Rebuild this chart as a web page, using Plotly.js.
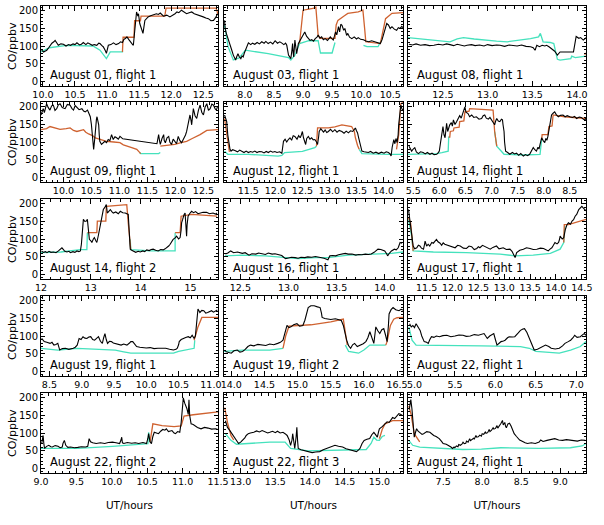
<!DOCTYPE html>
<html>
<head>
<meta charset="utf-8">
<script src="https://cdn.plot.ly/plotly-3.0.1.min.js"></script>
<style>
  html, body { margin: 0; padding: 0; background: #fff; }
  #chart { width: 604px; height: 525px; }
</style>
</head>
<body>
<div id="chart"></div>
<script>
// CO mixing ratio along each flight: [UT hours, ppbv]
// obs = measured CO (black), bg = background model (turquoise), model = model incl. plume (orange)

const aug01_obs = [[9.98,88],[10.01,83],[10.04,86],[10.06,88],[10.09,95],[10.11,102],[10.14,108],[10.17,112],[10.19,116],[10.22,108],[10.24,102],[10.28,106],[10.32,105],[10.36,100],[10.40,104],[10.43,102],[10.47,106],[10.50,104],[10.53,109],[10.57,103],[10.60,105],[10.63,110],[10.67,104],[10.70,109],[10.74,106],[10.77,102],[10.80,104],[10.84,102],[10.87,108],[10.89,107],[10.92,101],[10.94,98],[10.97,88],[10.99,79],[11.02,102],[11.06,104],[11.10,109],[11.14,104],[11.18,107],[11.21,112],[11.24,110],[11.26,118],[11.29,122],[11.31,126],[11.34,118],[11.36,112],[11.39,106],[11.41,102],[11.43,150],[11.46,197],[11.48,185],[11.49,192],[11.51,164],[11.53,150],[11.56,136],[11.59,173],[11.62,178],[11.64,183],[11.68,186],[11.72,188],[11.77,192],[11.80,190],[11.83,194],[11.88,185],[11.93,188],[11.98,183],[12.03,188],[12.06,192],[12.09,197],[12.12,195],[12.16,202],[12.20,196],[12.24,192],[12.28,195],[12.32,197],[12.36,192],[12.40,190],[12.45,186],[12.50,183],[12.54,180],[12.58,178],[12.62,172],[12.66,173],[12.70,183],[12.72,192]];
const aug01_bg = [[9.97,83],[10.10,95],[10.37,102],[10.60,101],[10.78,100],[10.89,88],[10.99,64],[11.05,83],[11.20,83],[11.25,83]];
const aug01_model = [[11.24,83],[11.25,125],[11.42,125],[11.43,172],[11.52,172],[11.53,185],[11.90,185],[11.92,208],[12.70,208],[12.73,190]];

const aug03_obs = [[7.65,173],[7.66,150],[7.68,136],[7.71,118],[7.74,107],[7.77,90],[7.80,74],[7.82,66],[7.84,60],[7.86,70],[7.88,78],[7.90,70],[7.93,64],[7.95,72],[7.97,69],[7.99,80],[8.01,88],[8.04,100],[8.06,109],[8.10,104],[8.13,108],[8.17,105],[8.21,110],[8.25,106],[8.29,112],[8.33,108],[8.36,113],[8.40,107],[8.44,111],[8.48,106],[8.52,115],[8.56,108],[8.60,112],[8.63,109],[8.67,104],[8.70,108],[8.72,102],[8.75,74],[8.77,70],[8.79,64],[8.81,90],[8.82,107],[8.83,80],[8.84,69],[8.86,117],[8.87,95],[8.89,78],[8.92,107],[8.95,115],[8.98,126],[9.01,132],[9.03,140],[9.06,128],[9.09,121],[9.12,116],[9.15,118],[9.18,114],[9.21,121],[9.24,125],[9.26,131],[9.29,122],[9.32,126],[9.35,118],[9.38,121],[9.42,116],[9.45,122],[9.47,126],[9.50,120],[9.52,117],[9.54,128],[9.56,140],[9.58,132],[9.61,155],[9.63,140],[9.65,162],[9.67,159],[9.70,145],[9.72,150],[9.75,130],[9.77,136],[9.80,125],[9.84,121],[9.88,126],[9.92,120],[9.95,124],[9.99,119],[10.04,118],[10.08,114],[10.13,112],[10.18,115],[10.24,112],[10.29,110],[10.33,107],[10.36,118],[10.39,136],[10.42,150],[10.44,164],[10.47,160],[10.50,150],[10.53,155],[10.57,148],[10.61,145],[10.64,152],[10.67,150],[10.70,156],[10.72,152]];
const aug03_bg = [[7.64,160],[7.66,150],[7.71,98],[7.80,60],[7.90,66],[8.01,88],[8.40,78],[8.75,67],[8.79,60],[8.86,74],[8.94,107],[9.10,115],[9.26,115],[9.30,80],[9.50,80],[9.55,110],[9.70,null],[10.02,null],[10.04,102],[10.10,98],[10.29,98],[10.35,117]];
const aug03_model = [[8.94,107],[8.97,150],[9.00,202],[9.10,205],[9.17,207],[9.22,211],[9.25,150],[9.26,130],[9.30,122],[9.55,122],[9.57,160],[9.60,173],[9.70,185],[9.77,193],[9.95,197],[10.03,202],[10.06,150],[10.08,112],[10.33,107],[10.38,150],[10.42,178],[10.53,193],[10.72,195]];

const aug08_obs = [[12.12,105],[12.16,103],[12.20,106],[12.25,102],[12.30,104],[12.35,101],[12.40,102],[12.45,105],[12.50,103],[12.54,106],[12.58,104],[12.62,101],[12.66,105],[12.70,103],[12.74,100],[12.77,102],[12.82,104],[12.86,101],[12.91,103],[12.96,100],[13.00,104],[13.05,101],[13.10,103],[13.14,102],[13.19,99],[13.24,103],[13.28,101],[13.33,100],[13.38,103],[13.43,99],[13.48,98],[13.51,95],[13.53,88],[13.55,102],[13.58,98],[13.61,102],[13.64,100],[13.66,102],[13.69,97],[13.72,92],[13.75,85],[13.77,78],[13.78,74],[13.81,83],[13.96,83],[13.99,127],[14.02,122],[14.04,124],[14.07,117],[14.09,121],[14.10,124]];
const aug08_bg = [[12.11,124],[12.25,121],[12.40,116],[12.58,112],[12.66,120],[12.73,124],[12.85,120],[12.96,117],[13.10,114],[13.22,112],[13.35,116],[13.48,121],[13.57,126],[13.59,136],[13.61,120],[13.62,112],[13.70,110],[13.74,107],[13.78,62],[13.81,60],[13.93,64],[13.94,71],[13.98,67],[14.10,71]];
const aug08_model = [[14.085,75],[14.10,80]];

const aug09_obs = [[9.60,177],[9.62,190],[9.64,195],[9.66,184],[9.68,200],[9.70,209],[9.73,198],[9.76,191],[9.79,203],[9.82,205],[9.85,190],[9.88,195],[9.91,206],[9.94,209],[9.98,198],[10.03,195],[10.07,207],[10.12,205],[10.15,196],[10.18,191],[10.21,204],[10.24,200],[10.28,192],[10.33,195],[10.36,188],[10.39,186],[10.43,191],[10.46,180],[10.48,172],[10.50,150],[10.51,130],[10.53,100],[10.54,79],[10.56,110],[10.57,140],[10.59,165],[10.60,172],[10.62,160],[10.63,149],[10.64,120],[10.65,102],[10.68,93],[10.71,98],[10.74,102],[10.77,98],[10.80,107],[10.83,104],[10.86,121],[10.89,107],[10.92,115],[10.95,112],[10.98,108],[11.01,116],[11.04,112],[11.06,109],[11.67,95],[11.69,115],[11.70,121],[11.72,100],[11.73,93],[11.76,110],[11.79,121],[11.80,104],[11.82,98],[11.85,112],[11.88,116],[11.90,100],[11.93,93],[11.96,108],[11.99,102],[12.02,95],[12.05,116],[12.08,104],[12.11,98],[12.15,110],[12.18,120],[12.20,130],[12.22,150],[12.24,170],[12.26,177],[12.28,160],[12.29,149],[12.31,180],[12.32,195],[12.35,175],[12.38,167],[12.41,190],[12.44,205],[12.47,185],[12.50,177],[12.53,200],[12.56,209],[12.59,190],[12.62,195],[12.65,208],[12.68,205],[12.71,194],[12.73,191],[12.75,200]];
const aug09_bg = [[11.36,70],[11.38,67],[11.70,67],[11.73,70]];
const aug09_model = [[9.60,135],[9.70,138],[9.76,144],[9.85,140],[9.94,136],[10.05,138],[10.12,140],[10.18,133],[10.24,130],[10.36,135],[10.40,128],[10.45,123],[10.52,118],[10.57,112],[10.65,108],[10.77,102],[10.90,100],[11.01,98],[11.07,92],[11.13,88],[11.22,84],[11.31,79],[11.36,72],[11.38,67],[11.50,null],[11.73,88],[11.85,90],[11.99,93],[12.10,98],[12.20,102],[12.30,110],[12.44,121],[12.56,133],[12.66,135],[12.76,135]];

const aug12_obs = [[11.06,177],[11.08,165],[11.10,158],[11.12,120],[11.14,93],[11.16,80],[11.18,74],[11.21,78],[11.25,76],[11.30,72],[11.34,77],[11.38,73],[11.42,70],[11.46,74],[11.50,70],[11.54,73],[11.58,71],[11.62,74],[11.66,70],[11.70,73],[11.75,72],[11.79,69],[11.83,73],[11.87,70],[11.91,74],[11.95,71],[11.99,73],[12.03,70],[12.08,72],[12.12,68],[12.14,90],[12.15,102],[12.18,108],[12.21,100],[12.24,107],[12.27,112],[12.30,105],[12.33,118],[12.36,116],[12.40,108],[12.43,118],[12.46,112],[12.48,120],[12.50,130],[12.52,112],[12.54,100],[12.56,93],[12.58,110],[12.61,116],[12.64,108],[12.67,112],[12.70,106],[12.73,107],[12.76,100],[12.78,93],[12.80,115],[12.81,130],[12.84,138],[12.86,135],[12.89,128],[12.92,134],[12.95,127],[12.98,130],[13.02,136],[13.06,129],[13.10,135],[13.14,128],[13.18,133],[13.23,130],[13.27,125],[13.31,131],[13.35,126],[13.39,132],[13.43,130],[13.46,136],[13.48,140],[13.50,132],[13.52,126],[13.54,112],[13.57,93],[13.60,74],[13.64,72],[13.68,70],[13.72,70],[13.76,73],[13.81,68],[13.86,71],[13.91,67],[13.96,71],[14.01,68],[14.05,72],[14.09,70],[14.12,66],[14.14,60],[14.16,85],[14.19,107],[14.21,95],[14.23,110],[14.25,98],[14.27,120],[14.28,149],[14.30,175],[14.32,205],[14.34,195],[14.36,190]];
const aug12_bg = [[11.06,74],[11.12,65],[11.50,65],[11.80,63],[12.05,60],[12.12,62],[12.17,70],[12.50,73],[12.73,84],[12.76,88],[13.10,null],[13.55,79],[13.60,67],[14.09,65],[14.36,65]];
const aug12_model = [[11.06,167],[11.10,120],[11.12,93],[11.15,72],[11.50,null],[12.76,88],[12.78,140],[12.98,140],[13.10,143],[13.23,149],[13.41,144],[13.46,130],[13.48,112],[13.52,90],[13.55,79],[13.80,null],[14.24,79],[14.28,120],[14.32,209],[14.36,212]];

const aug14a_obs = [[5.42,88],[5.44,80],[5.47,74],[5.50,80],[5.53,84],[5.56,72],[5.60,67],[5.64,72],[5.69,70],[5.73,66],[5.77,70],[5.82,65],[5.86,68],[5.90,64],[5.95,65],[5.98,70],[6.00,74],[6.02,95],[6.04,121],[6.05,135],[6.07,144],[6.09,120],[6.11,112],[6.13,140],[6.14,153],[6.16,130],[6.18,145],[6.20,149],[6.23,155],[6.25,145],[6.27,163],[6.30,150],[6.33,158],[6.36,168],[6.39,175],[6.42,168],[6.44,177],[6.47,190],[6.49,200],[6.51,185],[6.55,181],[6.58,172],[6.62,177],[6.66,170],[6.71,172],[6.76,165],[6.81,167],[6.84,175],[6.87,177],[6.90,168],[6.94,165],[6.97,170],[7.00,163],[7.03,155],[7.06,149],[7.08,160],[7.10,167],[7.13,160],[7.16,158],[7.19,165],[7.21,163],[7.22,150],[7.24,130],[7.25,100],[7.27,74],[7.31,70],[7.35,65],[7.40,70],[7.44,66],[7.48,68],[7.52,62],[7.56,67],[7.61,60],[7.65,64],[7.69,61],[7.73,65],[7.76,72],[7.78,80],[7.80,84],[7.83,78],[7.86,74],[7.89,85],[7.91,80],[7.93,93],[7.95,105],[7.96,112],[7.99,104],[8.02,98],[8.04,110],[8.06,105],[8.08,116],[8.11,140],[8.13,160],[8.15,177],[8.18,182],[8.21,186],[8.24,178],[8.28,172],[8.32,176],[8.37,177],[8.41,172],[8.45,175],[8.50,172],[8.55,170],[8.59,173],[8.63,167],[8.68,171],[8.72,170],[8.76,165],[8.79,163],[8.81,168]];
const aug14a_bg = [[5.40,65],[5.70,66],[5.95,67],[6.05,70],[6.14,74],[6.17,74],[6.18,114],[6.20,114],[6.60,null],[7.06,130],[7.10,88],[7.24,65],[7.60,63],[7.93,65],[7.96,107]];
const aug14a_model = [[6.18,114],[6.20,114],[6.21,130],[6.27,132],[6.28,140],[6.38,142],[6.39,158],[6.47,160],[6.49,186],[6.57,188],[6.58,195],[7.03,191],[7.05,150],[7.06,130],[7.10,88],[7.50,null],[7.96,107],[7.97,121],[8.08,121],[8.10,144],[8.16,146],[8.18,177],[8.40,172],[8.60,170],[8.81,167]];

const aug14b_obs = [[12.01,66],[12.05,62],[12.09,64],[12.12,61],[12.16,65],[12.20,62],[12.25,63],[12.30,61],[12.35,66],[12.38,70],[12.42,75],[12.45,70],[12.47,66],[12.52,63],[12.56,65],[12.59,61],[12.64,64],[12.68,62],[12.72,66],[12.76,64],[12.79,66],[12.81,85],[12.82,108],[12.84,140],[12.85,156],[12.88,150],[12.91,151],[12.93,156],[12.95,120],[12.97,99],[13.00,95],[13.02,90],[13.05,100],[13.07,104],[13.10,95],[13.12,90],[13.15,110],[13.19,137],[13.22,160],[13.25,184],[13.28,190],[13.31,198],[13.33,174],[13.36,180],[13.39,184],[13.42,178],[13.45,174],[13.50,177],[13.55,172],[13.59,179],[13.64,175],[13.69,174],[13.72,172],[13.75,170],[13.77,120],[13.79,71],[13.82,68],[13.85,66],[13.90,62],[13.95,65],[13.99,63],[14.04,66],[14.08,64],[14.12,69],[14.17,67],[14.21,70],[14.25,71],[14.30,68],[14.35,66],[14.40,70],[14.45,69],[14.49,72],[14.52,75],[14.56,80],[14.59,85],[14.62,92],[14.65,99],[14.69,103],[14.72,108],[14.76,100],[14.79,104],[14.81,125],[14.82,146],[14.84,155],[14.85,165],[14.87,170],[14.89,174],[14.90,140],[14.92,108],[14.93,140],[14.95,165],[14.98,172],[15.02,179],[15.06,175],[15.10,178],[15.15,172],[15.19,174],[15.25,176],[15.32,176],[15.38,172],[15.45,174],[15.50,171],[15.53,174]];
const aug14b_bg = [[12.00,61],[12.40,63],[12.79,70],[12.92,70],[12.93,118],[13.30,null],[13.79,99],[13.80,70],[14.20,66],[14.69,66],[14.69,118]];
const aug14b_model = [[12.93,118],[13.12,118],[13.13,151],[13.30,151],[13.31,193],[13.55,195],[13.72,198],[13.75,146],[13.79,99],[13.80,70],[14.20,null],[14.69,118],[14.79,118],[14.80,140],[14.81,165],[15.02,170],[15.30,167],[15.53,165]];

const aug16_obs = [[12.345,57],[12.37,60],[12.40,66],[12.43,61],[12.47,63],[12.52,59],[12.55,61],[12.59,54],[12.62,58],[12.66,57],[12.69,60],[12.72,59],[12.76,56],[12.79,60],[12.83,57],[12.86,58],[12.90,54],[12.93,53],[12.95,48],[12.97,44],[13.00,46],[13.03,48],[13.07,47],[13.10,45],[13.13,48],[13.17,47],[13.20,49],[13.24,48],[13.28,50],[13.31,49],[13.34,47],[13.37,45],[13.41,41],[13.42,46],[13.43,52],[13.46,53],[13.49,52],[13.52,55],[13.55,57],[13.59,59],[13.62,57],[13.66,57],[13.70,54],[13.73,56],[13.76,55],[13.80,57],[13.83,56],[13.86,57],[13.89,62],[13.91,68],[13.93,71],[13.96,70],[14.00,66],[14.02,58],[14.03,52],[14.05,60],[14.07,66],[14.10,71],[14.12,69],[14.14,75],[14.16,90],[14.18,88]];
const aug16_bg = [[12.34,52],[12.52,54],[12.76,52],[12.93,47],[13.10,44],[13.28,47],[13.41,47],[13.62,54],[13.79,56],[13.90,57],[14.00,57],[14.07,59],[14.19,63]];
const aug16_model = [];

const aug17_obs = [[11.15,184],[11.17,160],[11.19,146],[11.21,110],[11.24,80],[11.27,72],[11.31,75],[11.34,82],[11.37,80],[11.40,74],[11.44,71],[11.46,85],[11.47,94],[11.50,80],[11.53,85],[11.56,80],[11.60,90],[11.63,88],[11.66,95],[11.69,99],[11.72,92],[11.76,88],[11.79,82],[11.82,89],[11.85,85],[11.90,82],[11.95,80],[12.00,76],[12.05,75],[12.10,82],[12.15,80],[12.21,74],[12.27,73],[12.32,80],[12.37,78],[12.42,70],[12.47,73],[12.50,78],[12.53,75],[12.58,82],[12.63,78],[12.68,73],[12.73,71],[12.78,76],[12.85,80],[12.90,72],[12.98,75],[13.04,70],[13.11,71],[13.15,65],[13.19,55],[13.21,47],[13.24,61],[13.30,68],[13.37,71],[13.43,75],[13.50,73],[13.56,70],[13.63,71],[13.70,74],[13.76,73],[13.81,70],[13.85,66],[13.89,72],[13.92,75],[13.95,82],[13.98,90],[14.02,86],[14.05,90],[14.07,100],[14.08,108],[14.12,100],[14.15,104],[14.18,127],[14.21,140],[14.24,146],[14.28,142],[14.31,151],[14.34,155],[14.37,165],[14.40,170],[14.44,184],[14.47,190],[14.50,193],[14.53,188],[14.56,184],[14.58,180]];
const aug17_bg = [[11.15,156],[11.21,108],[11.24,66],[11.63,63],[12.27,61],[12.92,57],[13.21,52],[13.56,54],[13.89,59],[14.02,66],[14.08,71],[14.15,90],[14.17,137]];
const aug17_model = [[11.145,162],[11.19,146],[11.22,100],[11.24,66],[12.00,null],[14.15,90],[14.16,141],[14.24,141],[14.37,146],[14.58,156]];

const aug19a_obs = [[8.38,93],[8.40,88],[8.42,84],[8.46,82],[8.51,79],[8.54,82],[8.57,74],[8.60,76],[8.63,79],[8.66,60],[8.70,64],[8.75,65],[8.80,62],[8.87,65],[8.90,68],[8.93,74],[8.96,93],[8.99,90],[9.02,98],[9.05,94],[9.08,93],[9.11,97],[9.14,98],[9.17,90],[9.20,88],[9.23,93],[9.26,98],[9.29,85],[9.32,79],[9.34,95],[9.36,107],[9.38,90],[9.40,79],[9.43,85],[9.46,84],[9.49,80],[9.52,79],[9.56,76],[9.61,74],[9.65,77],[9.70,74],[9.74,80],[9.76,84],[9.79,84],[9.82,76],[9.85,70],[9.90,68],[9.94,67],[10.00,66],[10.06,67],[10.12,64],[10.18,65],[10.24,66],[10.30,65],[10.36,62],[10.42,60],[10.46,62],[10.48,65],[10.50,75],[10.51,84],[10.54,90],[10.57,93],[10.61,96],[10.65,98],[10.68,95],[10.71,102],[10.74,93],[10.76,100],[10.77,116],[10.79,150],[10.80,177],[10.83,167],[10.86,173],[10.89,172],[10.92,165],[10.95,167],[10.98,170],[11.01,172],[11.04,168],[11.07,170],[11.10,174]];
const aug19a_bg = [[8.37,65],[8.63,60],[8.93,65],[9.30,63],[9.52,60],[9.65,55],[9.76,51],[10.06,51],[10.42,51],[10.50,56],[10.60,60],[10.74,65],[10.75,88]];
const aug19a_model = [[10.74,88],[10.80,126],[10.86,153],[11.11,153]];

const aug19b_obs = [[13.91,56],[13.95,53],[14.00,51],[14.04,58],[14.09,60],[14.13,54],[14.17,56],[14.21,62],[14.25,70],[14.29,74],[14.34,72],[14.40,76],[14.47,74],[14.52,73],[14.58,77],[14.64,75],[14.70,79],[14.74,82],[14.78,88],[14.81,110],[14.84,130],[14.87,124],[14.90,126],[14.94,132],[14.99,135],[15.03,128],[15.08,130],[15.11,145],[15.14,170],[15.16,181],[15.20,186],[15.25,186],[15.30,183],[15.34,181],[15.36,165],[15.37,153],[15.41,150],[15.45,149],[15.50,147],[15.57,149],[15.62,146],[15.66,144],[15.69,130],[15.72,100],[15.74,88],[15.77,72],[15.80,65],[15.83,75],[15.86,79],[15.90,70],[15.95,74],[15.99,78],[16.03,84],[16.06,95],[16.09,112],[16.12,95],[16.15,79],[16.17,110],[16.18,126],[16.21,115],[16.24,107],[16.27,118],[16.30,121],[16.33,100],[16.35,84],[16.37,130],[16.38,163],[16.41,175],[16.44,181],[16.48,175],[16.53,172],[16.56,176],[16.59,174]];
const aug19b_bg = [[13.89,56],[14.17,60],[14.58,60],[14.78,65],[15.20,null],[15.72,74],[15.77,56],[15.92,51],[16.00,60],[16.09,74],[16.33,74]];
const aug19b_model = [[14.78,65],[14.82,100],[14.87,128],[15.20,132],[15.50,140],[15.69,148],[15.72,110],[15.75,74],[16.00,null],[16.33,74],[16.35,84],[16.40,130],[16.45,148],[16.50,152],[16.59,153]];

const aug22a_obs = [[4.94,135],[4.96,126],[4.98,130],[5.00,124],[5.02,135],[5.04,128],[5.07,116],[5.09,100],[5.12,84],[5.15,82],[5.17,79],[5.19,90],[5.21,98],[5.24,96],[5.27,100],[5.31,98],[5.35,101],[5.40,102],[5.45,98],[5.50,100],[5.55,103],[5.60,102],[5.64,99],[5.69,100],[5.74,104],[5.79,102],[5.83,105],[5.86,107],[5.88,100],[5.90,93],[5.93,100],[5.96,104],[5.98,107],[6.00,90],[6.02,74],[6.05,80],[6.07,84],[6.10,86],[6.12,88],[6.15,95],[6.17,98],[6.21,97],[6.24,98],[6.28,108],[6.31,116],[6.34,120],[6.36,121],[6.39,110],[6.43,88],[6.46,70],[6.48,60],[6.52,62],[6.55,65],[6.59,70],[6.62,74],[6.66,70],[6.69,65],[6.74,63],[6.79,65],[6.83,72],[6.86,79],[6.90,84],[6.93,88],[6.96,95],[6.98,102],[7.01,96],[7.05,98],[7.08,104],[7.10,107],[7.12,102]];
const aug22a_bg = [[4.93,126],[4.96,100],[4.97,88],[5.02,74],[5.36,74],[5.83,72],[6.31,70],[6.42,65],[6.50,56],[6.79,51],[6.93,60],[7.05,70],[7.12,84]];
const aug22a_model = [];

const aug22b_obs = [[9.01,70],[9.02,85],[9.03,93],[9.04,70],[9.05,56],[9.08,62],[9.11,65],[9.14,61],[9.16,60],[9.20,64],[9.24,62],[9.27,58],[9.30,60],[9.31,70],[9.33,79],[9.35,65],[9.38,59],[9.42,60],[9.47,58],[9.52,59],[9.57,61],[9.63,60],[9.66,62],[9.68,84],[9.70,75],[9.73,72],[9.78,70],[9.84,72],[9.90,70],[9.95,73],[10.01,74],[10.06,72],[10.11,70],[10.13,80],[10.14,88],[10.15,72],[10.17,70],[10.22,73],[10.28,71],[10.33,72],[10.38,70],[10.44,73],[10.49,70],[10.51,85],[10.52,98],[10.54,75],[10.56,70],[10.58,90],[10.60,102],[10.63,100],[10.66,98],[10.69,105],[10.72,110],[10.75,108],[10.77,112],[10.80,104],[10.85,107],[10.88,100],[10.90,98],[10.93,104],[10.96,102],[10.98,130],[11.00,180],[11.01,200],[11.03,185],[11.04,181],[11.06,170],[11.08,153],[11.09,195],[11.10,150],[11.12,126],[11.15,124],[11.17,121],[11.21,116],[11.26,112],[11.31,116],[11.36,114],[11.41,111],[11.47,112],[11.50,110]];
const aug22b_bg = [[9.00,56],[9.52,56],[10.01,62],[10.49,68],[10.51,70],[10.52,102],[10.54,74]];
const aug22b_model = [[10.54,74],[10.56,100],[10.58,126],[10.71,121],[10.88,118],[10.98,120],[11.02,148],[11.15,152],[11.36,158],[11.50,160]];

const aug22c_obs = [[12.78,135],[12.80,125],[12.81,116],[12.84,108],[12.86,102],[12.89,92],[12.92,84],[12.95,76],[12.97,70],[13.00,74],[13.03,79],[13.06,86],[13.08,93],[13.11,98],[13.14,100],[13.19,102],[13.23,106],[13.27,103],[13.31,107],[13.35,104],[13.39,100],[13.42,102],[13.46,105],[13.50,101],[13.53,105],[13.57,100],[13.61,102],[13.64,98],[13.67,93],[13.70,80],[13.72,65],[13.74,80],[13.75,98],[13.77,70],[13.78,56],[13.80,90],[13.81,116],[13.82,80],[13.83,56],[13.87,52],[13.92,49],[13.97,46],[14.03,44],[14.08,46],[14.14,47],[14.19,52],[14.25,56],[14.30,60],[14.36,65],[14.41,62],[14.47,60],[14.52,55],[14.58,51],[14.63,49],[14.67,47],[14.70,52],[14.72,56],[14.75,70],[14.78,79],[14.82,82],[14.86,84],[14.89,95],[14.92,102],[14.95,94],[14.97,88],[14.99,105],[15.00,112],[15.04,118],[15.08,126],[15.11,132],[15.14,130],[15.17,140],[15.19,144],[15.22,141],[15.25,149],[15.28,155],[15.31,153],[15.33,150]];
const aug22c_bg = [[12.78,98],[12.86,79],[12.94,68],[13.14,70],[13.42,74],[13.64,74],[13.72,56],[13.97,49],[14.53,51],[14.81,53],[14.88,70],[14.92,88],[14.96,80],[15.00,79],[15.04,90],[15.08,93]];
const aug22c_model = [[12.77,172],[12.79,150],[12.81,130],[12.86,93],[12.90,80],[13.50,null],[15.00,84],[15.04,110],[15.08,126],[15.19,135],[15.34,135]];

const aug24_obs = [[7.066,167],[7.076,185],[7.086,195],[7.10,170],[7.11,144],[7.12,110],[7.13,88],[7.15,105],[7.16,112],[7.18,105],[7.20,102],[7.23,96],[7.25,98],[7.29,104],[7.33,102],[7.36,96],[7.38,93],[7.41,90],[7.45,84],[7.48,76],[7.50,70],[7.54,68],[7.57,65],[7.60,60],[7.62,56],[7.64,60],[7.65,58],[7.67,63],[7.69,61],[7.70,67],[7.72,65],[7.74,68],[7.755,74],[7.77,70],[7.79,71],[7.80,77],[7.82,74],[7.84,84],[7.85,78],[7.87,81],[7.89,85],[7.90,83],[7.92,93],[7.93,88],[7.95,89],[7.97,94],[7.99,91],[8.00,98],[8.02,96],[8.04,103],[8.05,99],[8.07,101],[8.09,110],[8.10,104],[8.12,108],[8.14,115],[8.15,111],[8.17,113],[8.19,121],[8.20,114],[8.22,119],[8.24,127],[8.25,131],[8.26,136],[8.27,123],[8.29,130],[8.30,119],[8.31,115],[8.33,126],[8.35,128],[8.37,120],[8.39,110],[8.41,98],[8.44,90],[8.46,84],[8.48,80],[8.50,78],[8.53,74],[8.55,72],[8.58,70],[8.63,72],[8.68,70],[8.73,74],[8.75,80],[8.78,76],[8.83,79],[8.88,82],[8.93,84],[8.98,80],[9.03,79],[9.08,81],[9.13,79],[9.18,78],[9.22,77],[9.27,80],[9.32,79]];
const aug24_bg = [[7.06,79],[7.11,65],[7.20,60],[7.50,56],[7.75,53],[7.99,54],[8.24,58],[8.73,56],[9.13,58],[9.28,63],[9.33,70]];
const aug24_model = [[7.06,177],[7.09,153],[7.13,98],[7.18,79],[7.20,75]];

const flightLabels = ['August 01, flight 1','August 03, flight 1','August 08, flight 1',
  'August 09, flight 1','August 12, flight 1','August 14, flight 1',
  'August 14, flight 2','August 16, flight 1','August 17, flight 1',
  'August 19, flight 1','August 19, flight 2','August 22, flight 1',
  'August 22, flight 2','August 22, flight 3','August 24, flight 1'];

const yTicks = [0, 50, 100, 150, 200];

const panels = [
  {obs: aug01_obs, bg: aug01_bg, model: aug01_model, range: [9.97, 12.73], dtick: 0.5},
  {obs: aug03_obs, bg: aug03_bg, model: aug03_model, range: [7.64, 10.72], dtick: 0.5},
  {obs: aug08_obs, bg: aug08_bg, model: aug08_model, range: [12.11, 14.10], dtick: 0.5},
  {obs: aug09_obs, bg: aug09_bg, model: aug09_model, range: [9.60, 12.76], dtick: 0.5},
  {obs: aug12_obs, bg: aug12_bg, model: aug12_model, range: [11.05, 14.36], dtick: 0.5},
  {obs: aug14a_obs, bg: aug14a_bg, model: aug14a_model, range: [5.40, 8.81], dtick: 0.5},
  {obs: aug14b_obs, bg: aug14b_bg, model: aug14b_model, range: [12.0, 15.55], dtick: 1},
  {obs: aug16_obs, bg: aug16_bg, model: aug16_model, range: [12.33, 14.19], dtick: 0.5},
  {obs: aug17_obs, bg: aug17_bg, model: aug17_model, range: [11.14, 14.58], dtick: 0.5},
  {obs: aug19a_obs, bg: aug19a_bg, model: aug19a_model, range: [8.37, 11.11], dtick: 0.5},
  {obs: aug19b_obs, bg: aug19b_bg, model: aug19b_model, range: [13.89, 16.59], dtick: 0.5},
  {obs: aug22a_obs, bg: aug22a_bg, model: aug22a_model, range: [4.92, 7.12], dtick: 0.5},
  {obs: aug22b_obs, bg: aug22b_bg, model: aug22b_model, range: [9.0, 11.5], dtick: 0.5},
  {obs: aug22c_obs, bg: aug22c_bg, model: aug22c_model, range: [12.76, 15.34], dtick: 0.5},
  {obs: aug24_obs, bg: aug24_bg, model: aug24_model, range: [7.05, 9.33], dtick: 0.5}
];

// page geometry (pixels)
const W = 604, H = 525;
const colLeft = [41, 224, 408], colRight = [218, 403, 586];
const rowTop = [6, 102, 199, 296, 393], panelH = 80;

const FONT = 'DejaVu Sans, Liberation Sans, sans-serif';
const C_OBS = '#000000', C_BG = '#45e2bd', C_MODEL = '#cf6230';

const traces = [];
const layout = {
  width: W, height: H,
  margin: {l: 0, r: 0, t: 0, b: 0},
  paper_bgcolor: '#fff', plot_bgcolor: '#fff',
  showlegend: false,
  font: {family: FONT, size: 10, color: '#000'},
  annotations: []
};

panels.forEach((p, i) => {
  const row = Math.floor(i / 3), col = i % 3;
  const n = i === 0 ? '' : String(i + 1);
  const xa = 'x' + n, ya = 'y' + n;

  const line = (data, color, width) => ({
    type: 'scatter', mode: 'lines', xaxis: xa, yaxis: ya,
    x: data.map(d => d[0]), y: data.map(d => d[1]),
    line: {color: color, width: width}, connectgaps: false, hoverinfo: 'skip'
  });
  traces.push(line(p.bg, C_BG, 1.3));
  traces.push(line(p.model, C_MODEL, 1.3));
  traces.push(line(p.obs, C_OBS, 1.1));

  const axisCommon = {
    ticks: 'inside', tickcolor: '#000', tickwidth: 1,
    mirror: 'allticks', showline: true, linecolor: '#000', linewidth: 1,
    showgrid: false, zeroline: false, fixedrange: true,
    tickfont: {family: FONT, size: 9.5, color: '#000'}
  };

  layout['xaxis' + n] = Object.assign({}, axisCommon, {
    domain: [colLeft[col] / W, colRight[col] / W],
    anchor: ya, range: p.range,
    tick0: 0, dtick: p.dtick, tickformat: p.dtick >= 1 ? 'd' : '.1f',
    ticklen: 5,
    minor: {ticks: 'inside', ticklen: 2.5, tickcolor: '#000', dtick: p.dtick >= 1 ? 0.2 : 0.1, showgrid: false},
    title: row === 4 ? {text: 'UT/hours', font: {family: FONT, size: 10.5, color: '#000'}, standoff: 15} : {text: ''}
  });

  layout['yaxis' + n] = Object.assign({}, axisCommon, {
    domain: [1 - (rowTop[row] + panelH) / H, 1 - rowTop[row] / H],
    anchor: xa, range: [-14, 214],
    tickvals: yTicks, ticklen: 4,
    tickfont: {family: FONT, size: 10, color: '#000'},
    minor: {ticks: 'inside', ticklen: 2, tickcolor: '#000', dtick: 10, showgrid: false},
    showticklabels: col === 0,
    title: {text: ''}
  });

  // vertical quantity label beside each row
  if (col === 0) {
    layout.annotations.push({
      xref: 'paper', yref: ya + ' domain', x: 12 / W, y: 0.5,
      xanchor: 'center', yanchor: 'middle', textangle: -90, showarrow: false,
      text: 'CO/ppbv', font: {family: FONT, size: 11, color: '#000'}
    });
  }

  layout.annotations.push({
    xref: xa + ' domain', yref: ya + ' domain', x: 0.04, y: 0.03,
    xanchor: 'left', yanchor: 'bottom', showarrow: false,
    text: flightLabels[i], font: {family: FONT, size: 11.5, color: '#000'}
  });
});

Plotly.newPlot('chart', traces, layout, {displayModeBar: false, staticPlot: true});
</script>
</body>
</html>
